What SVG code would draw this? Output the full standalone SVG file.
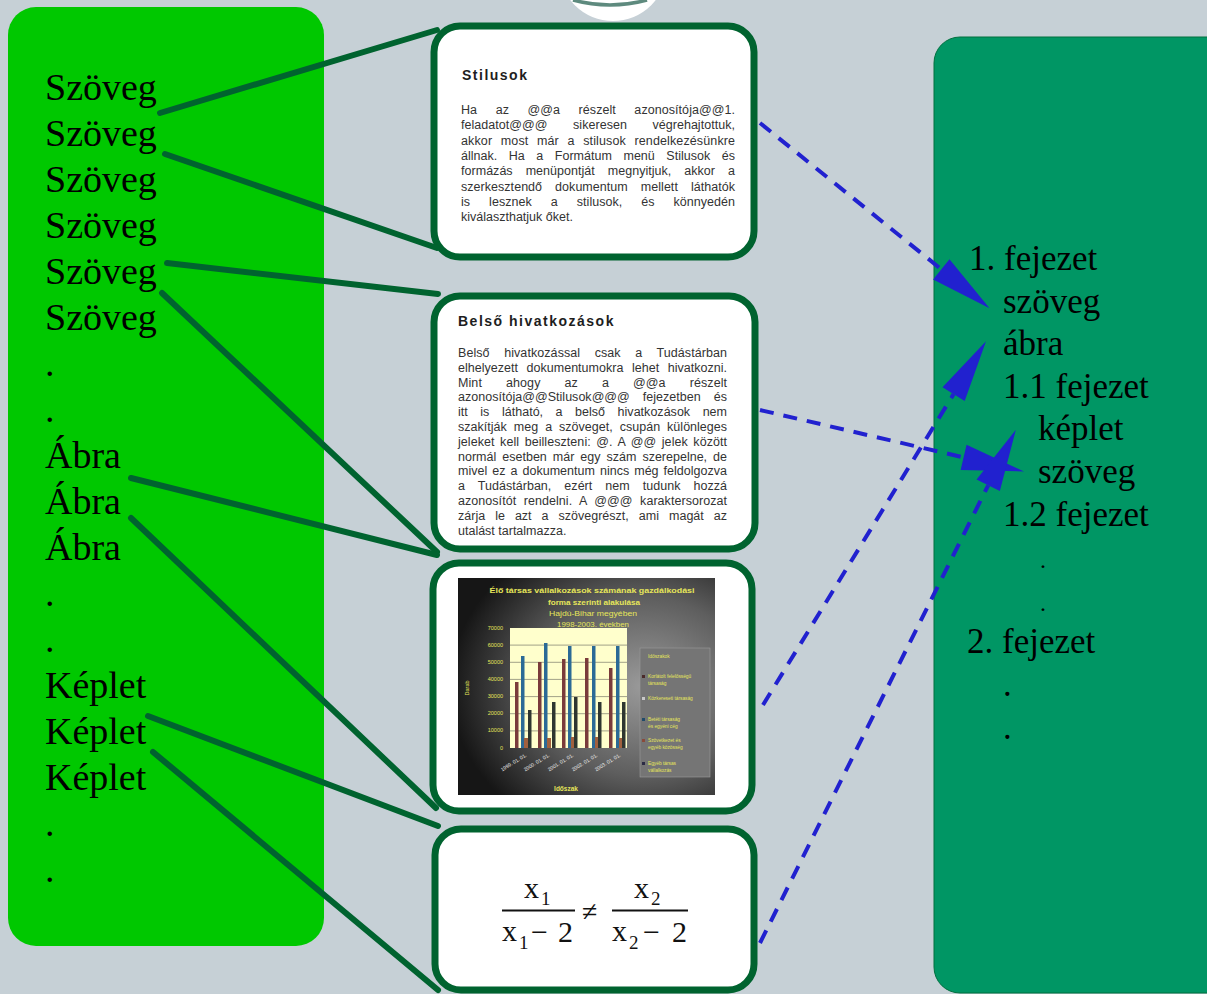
<svg xmlns="http://www.w3.org/2000/svg" width="1207" height="994" viewBox="0 0 1207 994">
<style>
.big{font-family:"Liberation Serif","Times New Roman",serif;font-size:38px;fill:#000}
.toc{font-family:"Liberation Serif","Times New Roman",serif;font-size:35px;fill:#000}
.box{fill:#fff;stroke:#00632F;stroke-width:7}
.conn{stroke:#00632F;stroke-width:6;stroke-linecap:round;fill:none}
.arr{stroke:#2121CF;stroke-width:4;stroke-dasharray:14 10;fill:none;marker-end:url(#ah)}
.head{font-family:"Liberation Sans",Arial,sans-serif;font-weight:bold;font-size:14px;letter-spacing:1.5px;fill:#1e1e1e}
.body{font-family:"Liberation Sans",Arial,sans-serif;font-size:12.5px;fill:#333}
.ct{font-family:"Liberation Sans",Arial,sans-serif;fill:#E6E65A}
.fm{font-family:"Liberation Serif","Times New Roman",serif;font-size:30px;fill:#111}
.fs{font-family:"Liberation Serif","Times New Roman",serif;font-size:19px;fill:#111}
</style>
<defs>
<marker id="ah" markerUnits="userSpaceOnUse" markerWidth="64" markerHeight="26" refX="0" refY="13" orient="auto" overflow="visible">
<path d="M0,0 L62,13 L0,26 Z" fill="#2121CF" stroke="none"/>
</marker>
<radialGradient id="cbg" cx="0.72" cy="0.5" r="0.75">
<stop offset="0" stop-color="#9a9a9a"/>
<stop offset="0.55" stop-color="#5e5e5e"/>
<stop offset="1" stop-color="#161616"/>
</radialGradient>
</defs>
<rect x="0" y="0" width="1207" height="994" fill="#C6D0D6"/>
<g id="top-circle">
<circle cx="613" cy="-33" r="54" fill="#fff"/>
<path d="M573,0 Q610,10 647,0" fill="none" stroke="#5E8A7E" stroke-width="3.5"/>
</g>
<g id="left-panel">
<rect x="8" y="7" width="316" height="939" rx="28" fill="#00C800"/>
<text class="big" x="45" y="100">Szöveg</text>
<text class="big" x="45" y="146">Szöveg</text>
<text class="big" x="45" y="192">Szöveg</text>
<text class="big" x="45" y="238">Szöveg</text>
<text class="big" x="45" y="284">Szöveg</text>
<text class="big" x="45" y="330">Szöveg</text>
<text class="big" x="45" y="376">.</text>
<text class="big" x="45" y="422">.</text>
<text class="big" x="45" y="468">Ábra</text>
<text class="big" x="45" y="514">Ábra</text>
<text class="big" x="45" y="560">Ábra</text>
<text class="big" x="45" y="606">.</text>
<text class="big" x="45" y="652">.</text>
<text class="big" x="45" y="698">Képlet</text>
<text class="big" x="45" y="744">Képlet</text>
<text class="big" x="45" y="790">Képlet</text>
<text class="big" x="45" y="836">.</text>
<text class="big" x="45" y="882">.</text>
</g>
<g id="right-panel">
<rect x="934" y="37" width="320" height="956" rx="26" fill="#009664" stroke="#00703F" stroke-width="1"/>
<text class="toc" x="969" y="270">1. fejezet</text>
<text class="toc" x="1003" y="312.6">szöveg</text>
<text class="toc" x="1003" y="355.2">ábra</text>
<text class="toc" x="1003" y="397.8">1.1 fejezet</text>
<text class="toc" x="1038" y="440.4">képlet</text>
<text class="toc" x="1038" y="483">szöveg</text>
<text class="toc" x="1003" y="525.6">1.2 fejezet</text>
<text class="toc" x="1040" y="568.2" style="font-size:24px">.</text>
<text class="toc" x="1040" y="610.8" style="font-size:24px">.</text>
<text class="toc" x="967" y="653.4">2. fejezet</text>
<text class="toc" x="1003" y="696">.</text>
<text class="toc" x="1003" y="738.6">.</text>
</g>
<g id="box-stilusok">
<rect class="box" x="434" y="26" width="320" height="231" rx="26"/>
<text class="head" x="462" y="80">Stilusok</text>
<text class="body" x="461" y="114" word-spacing="15" textLength="274" lengthAdjust="spacing">Ha az @@a részelt azonosítója@@1.</text>
<text class="body" x="461" y="129.3" word-spacing="22" textLength="274" lengthAdjust="spacing">feladatot@@@ sikeresen végrehajtottuk,</text>
<text class="body" x="461" y="144.6" word-spacing="5" textLength="274" lengthAdjust="spacing">akkor most már a stilusok rendelkezésünkre</text>
<text class="body" x="461" y="159.9" word-spacing="8" textLength="274" lengthAdjust="spacing">állnak. Ha a Formátum menü Stilusok és</text>
<text class="body" x="461" y="175.2" word-spacing="9.5" textLength="274" lengthAdjust="spacing">formázás menüpontját megnyitjuk, akkor a</text>
<text class="body" x="461" y="190.5" word-spacing="9.5" textLength="274" lengthAdjust="spacing">szerkesztendő dokumentum mellett láthatók</text>
<text class="body" x="461" y="205.8" word-spacing="15.5" textLength="274" lengthAdjust="spacing">is lesznek a stilusok, és könnyedén</text>
<text class="body" x="461" y="221">kiválaszthatjuk őket.</text>
</g>
<g id="box-belso">
<rect class="box" x="434" y="296" width="321" height="253" rx="26"/>
<text class="head" x="458" y="326">Belső hivatkozások</text>
<text class="body" x="458" y="357" word-spacing="11" textLength="269" lengthAdjust="spacing">Belső hivatkozással csak a Tudástárban</text>
<text class="body" x="458" y="371.8" word-spacing="5" textLength="269" lengthAdjust="spacing">elhelyezett dokumentumokra lehet hivatkozni.</text>
<text class="body" x="458" y="386.6" word-spacing="20.5" textLength="269" lengthAdjust="spacing">Mint ahogy az a @@a részelt</text>
<text class="body" x="458" y="401.4" word-spacing="9.5" textLength="269" lengthAdjust="spacing">azonosítója@@Stilusok@@@ fejezetben és</text>
<text class="body" x="458" y="416.2" word-spacing="9" textLength="269" lengthAdjust="spacing">itt is látható, a belső hivatkozások nem</text>
<text class="body" x="458" y="431" word-spacing="3.5" textLength="269" lengthAdjust="spacing">szakítják meg a szöveget, csupán különleges</text>
<text class="body" x="458" y="445.8" word-spacing="2" textLength="269" lengthAdjust="spacing">jeleket kell beilleszteni: @. A @@ jelek között</text>
<text class="body" x="458" y="460.6" word-spacing="2.5" textLength="269" lengthAdjust="spacing">normál esetben már egy szám szerepelne, de</text>
<text class="body" x="458" y="475.4" word-spacing="1.5" textLength="269" lengthAdjust="spacing">mivel ez a dokumentum nincs még feldolgozva</text>
<text class="body" x="458" y="490.2" word-spacing="9.5" textLength="269" lengthAdjust="spacing">a Tudástárban, ezért nem tudunk hozzá</text>
<text class="body" x="458" y="505" word-spacing="4" textLength="269" lengthAdjust="spacing">azonosítót rendelni. A @@@ karaktersorozat</text>
<text class="body" x="458" y="519.8" word-spacing="6.5" textLength="269" lengthAdjust="spacing">zárja le azt a szövegrészt, ami magát az</text>
<text class="body" x="458" y="534.6">utalást tartalmazza.</text>
</g>
<g id="box-chart">
<rect class="box" x="433" y="563" width="319" height="248" rx="26"/>
<rect x="458" y="578" width="257" height="217" fill="url(#cbg)"/>
<text class="ct" x="592" y="593" font-size="7.5" font-weight="bold" text-anchor="middle" textLength="205" lengthAdjust="spacingAndGlyphs">Élő társas vállalkozások számának gazdálkodási</text>
<text class="ct" x="594" y="605" font-size="7.5" font-weight="bold" text-anchor="middle" textLength="92" lengthAdjust="spacingAndGlyphs">forma szerinti alakulása</text>
<text class="ct" x="593" y="616" font-size="7" text-anchor="middle" textLength="88" lengthAdjust="spacingAndGlyphs">Hajdú-Bihar megyében</text>
<text class="ct" x="593" y="627" font-size="7" text-anchor="middle" textLength="72" lengthAdjust="spacingAndGlyphs">1998-2003. években</text>
<rect x="510" y="628" width="117" height="120" fill="#FFFFCC"/>
<g stroke="#7a7a6a" stroke-width="0.7">
<line x1="510" y1="645.1" x2="627" y2="645.1"/>
<line x1="510" y1="662.3" x2="627" y2="662.3"/>
<line x1="510" y1="679.4" x2="627" y2="679.4"/>
<line x1="510" y1="696.6" x2="627" y2="696.6"/>
<line x1="510" y1="713.7" x2="627" y2="713.7"/>
<line x1="510" y1="730.9" x2="627" y2="730.9"/>
</g>
<g class="ct" font-size="5.5" text-anchor="end">
<text x="503" y="630">70000</text>
<text x="503" y="647">60000</text>
<text x="503" y="664">50000</text>
<text x="503" y="681">40000</text>
<text x="503" y="698">30000</text>
<text x="503" y="715">20000</text>
<text x="503" y="732">10000</text>
<text x="503" y="750">0</text>
</g>
<text class="ct" font-size="5.5" transform="translate(469,688) rotate(-90)" text-anchor="middle">Darab</text>
<g fill="#7A3B3B">
<rect x="515" y="682" width="3.5" height="66"/>
<rect x="538" y="662" width="3.5" height="86"/>
<rect x="562" y="659" width="3.5" height="89"/>
<rect x="585" y="658" width="3.5" height="90"/>
<rect x="609" y="668" width="3.5" height="80"/>
</g>
<g fill="#2B6A96">
<rect x="521" y="656" width="3.5" height="92"/>
<rect x="544" y="643" width="3.5" height="105"/>
<rect x="568" y="646" width="3.5" height="102"/>
<rect x="592" y="646" width="3.5" height="102"/>
<rect x="616" y="646" width="3.5" height="102"/>
</g>
<g fill="#A0603E">
<rect x="524" y="738" width="4" height="10"/>
<rect x="547" y="738" width="4" height="10"/>
<rect x="571" y="737" width="4" height="11"/>
<rect x="595" y="737" width="4" height="11"/>
<rect x="619" y="738" width="4" height="10"/>
</g>
<g fill="#2E3630">
<rect x="528" y="710" width="3.5" height="38"/>
<rect x="552" y="702" width="3.5" height="46"/>
<rect x="574" y="697" width="3.5" height="51"/>
<rect x="598" y="702" width="3.5" height="46"/>
<rect x="622" y="702" width="3.5" height="46"/>
</g>
<g font-family="Liberation Sans, Arial, sans-serif" font-size="5" fill="#f0f0f0" text-anchor="end">
<text transform="translate(527,756) rotate(-32)">1999. 01. 01.</text>
<text transform="translate(550,756) rotate(-32)">2000. 01. 01.</text>
<text transform="translate(574,756) rotate(-32)">2001. 01. 01.</text>
<text transform="translate(598,756) rotate(-32)">2002. 01. 01.</text>
<text transform="translate(621,756) rotate(-32)">2003. 01. 01.</text>
</g>
<text class="ct" x="566" y="791" font-size="6.5" font-weight="bold" text-anchor="middle">Időszak</text>
<rect x="640" y="648" width="70" height="129" fill="#757575" stroke="#9a9a9a" stroke-width="0.6"/>
<g class="ct" font-size="4.8">
<text x="648" y="658">Időszakok</text>
<rect x="642" y="675" width="3" height="3" fill="#4a2a2a"/>
<text x="648" y="678">Korlátolt felelősségű</text>
<text x="648" y="685">társaság</text>
<rect x="642" y="697" width="3" height="3" fill="#c8c8c8"/>
<text x="648" y="700">Közkereseti társaság</text>
<rect x="642" y="718" width="3" height="3" fill="#1f4a6a"/>
<text x="648" y="721">Betéti társaság</text>
<text x="648" y="728">és egyéni cég</text>
<rect x="642" y="739" width="3" height="3" fill="#8a4a3a"/>
<text x="648" y="742">Szövetkezet és</text>
<text x="648" y="749">egyéb közösség</text>
<rect x="642" y="762" width="3" height="3" fill="#2a2a44"/>
<text x="648" y="765">Egyéb társas</text>
<text x="648" y="772">vállalkozás</text>
</g>
</g>
<g id="box-formula">
<rect class="box" x="435" y="829" width="319" height="161" rx="26"/>
<text class="fm" x="524" y="898">x</text>
<text class="fs" x="541" y="905">1</text>
<rect x="502" y="909.5" width="73" height="2" fill="#111"/>
<text class="fm" x="502" y="941">x</text>
<text class="fs" x="519" y="949">1</text>
<text class="fm" x="531" y="942">−</text>
<text class="fm" x="558" y="942">2</text>
<text class="fm" x="582" y="921" style="font-size:28px">≠</text>
<text class="fm" x="634" y="898">x</text>
<text class="fs" x="651" y="905">2</text>
<rect x="612" y="909.5" width="76" height="2" fill="#111"/>
<text class="fm" x="612" y="941">x</text>
<text class="fs" x="629" y="949">2</text>
<text class="fm" x="643" y="942">−</text>
<text class="fm" x="672" y="942">2</text>
</g>
<g id="connectors">
<line class="conn" x1="160" y1="113" x2="437" y2="30"/>
<line class="conn" x1="165" y1="154" x2="437" y2="248"/>
<line class="conn" x1="167" y1="263" x2="438" y2="294"/>
<line class="conn" x1="162" y1="293" x2="437" y2="552"/>
<line class="conn" x1="131" y1="478" x2="437" y2="555"/>
<line class="conn" x1="131" y1="518" x2="436" y2="808"/>
<line class="conn" x1="148" y1="716" x2="438" y2="826"/>
<line class="conn" x1="153" y1="752" x2="438" y2="990"/>
<line class="arr" x1="760" y1="123" x2="941.3" y2="269.3"/>
<line class="arr" x1="760" y1="410" x2="963.6" y2="457.4"/>
<line class="arr" x1="763" y1="705" x2="953.6" y2="394.1"/>
<line class="arr" x1="760" y1="943" x2="988.2" y2="485.3"/>
</g>
</svg>
